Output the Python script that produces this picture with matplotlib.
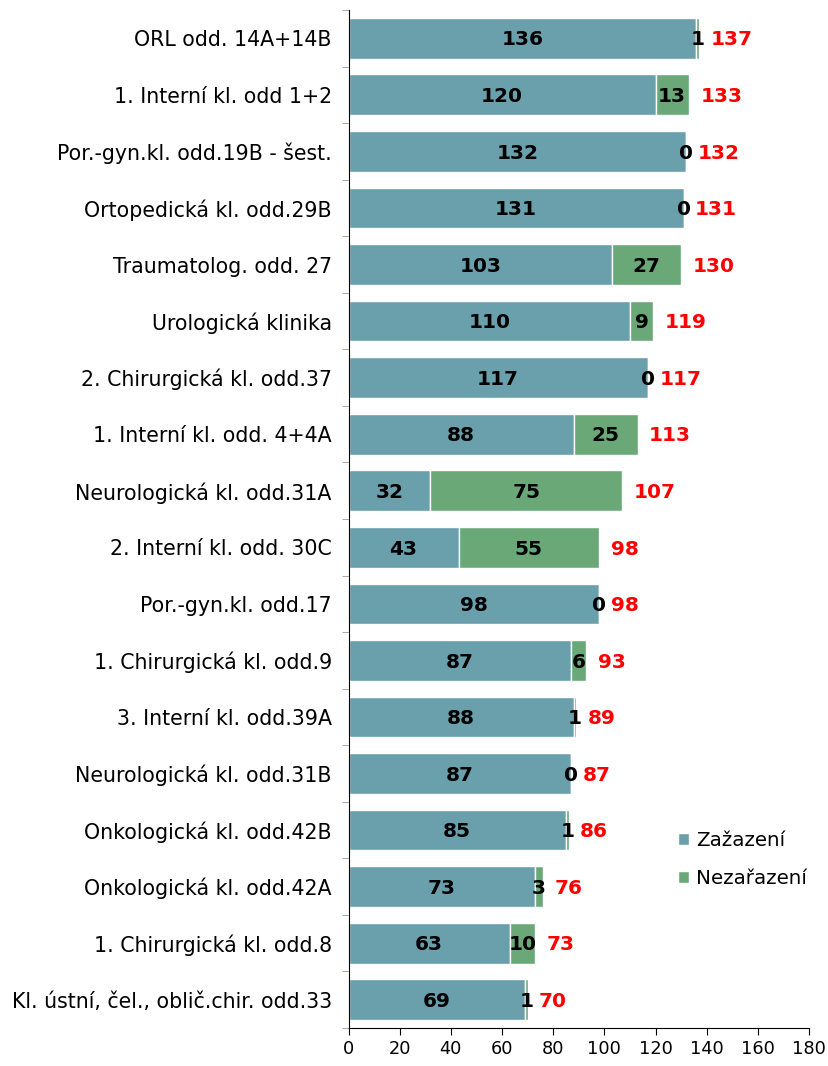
import matplotlib
matplotlib.use("Agg")
import matplotlib.pyplot as plt
import numpy as np

categories = [
    "ORL odd. 14A+14B",
    "1. Interní kl. odd 1+2",
    "Por.-gyn.kl. odd.19B - šest.",
    "Ortopedická kl. odd.29B",
    "Traumatolog. odd. 27",
    "Urologická klinika",
    "2. Chirurgická kl. odd.37",
    "1. Interní kl. odd. 4+4A",
    "Neurologická kl. odd.31A",
    "2. Interní kl. odd. 30C",
    "Por.-gyn.kl. odd.17",
    "1. Chirurgická kl. odd.9",
    "3. Interní kl. odd.39A",
    "Neurologická kl. odd.31B",
    "Onkologická kl. odd.42B",
    "Onkologická kl. odd.42A",
    "1. Chirurgická kl. odd.8",
    "Kl. ústní, čel., oblič.chir. odd.33",
]
zarazeni = [136, 120, 132, 131, 103, 110, 117, 88, 32, 43, 98, 87, 88, 87, 85, 73, 63, 69]
nezarazeni = [1, 13, 0, 0, 27, 9, 0, 25, 75, 55, 0, 6, 1, 0, 1, 3, 10, 1]
series_names = ["Zažazení", "Nezařazení"]
xticks = [0, 20, 40, 60, 80, 100, 120, 140, 160, 180]

c1 = "#6a9fac"
c2 = "#6aa878"

fig = plt.figure(figsize=(8.29, 10.66), dpi=100)
ax = fig.add_axes([0.4204, 0.0356, 0.5555, 0.955])

n = len(categories)
y = np.arange(n)
h = 0.72
ax.barh(y, zarazeni, height=h, color=c1, edgecolor="white", linewidth=1, label=series_names[0])
ax.barh(y, nezarazeni, left=zarazeni, height=h, color=c2, edgecolor="white", linewidth=1, label=series_names[1])

for i in range(n):
    a, b = zarazeni[i], nezarazeni[i]
    ax.text(a / 2, i + 0.03, str(a), ha="center", va="center", fontsize=14.5, fontweight="bold", color="black")
    ax.text(a + b / 2, i + 0.03, str(b), ha="center", va="center", fontsize=14.5, fontweight="bold", color="black")
    ax.text(a + b + 4.5, i + 0.03, str(a + b), ha="left", va="center", fontsize=14.5, fontweight="bold", color="red")

ax.set_ylim(n - 0.5, -0.5)
ax.set_xlim(0, 180)
ax.set_xticks(xticks)
ax.tick_params(axis="x", labelsize=12.8, length=5, direction="out")
ax.set_yticks(y)
ax.set_yticklabels(categories, fontsize=14.8)
ax.tick_params(axis="y", length=0, pad=12)
ax.set_yticks(np.arange(-0.5, n, 1), minor=True)
ax.tick_params(axis="y", which="minor", length=5, color="#999999")
ax.spines["top"].set_visible(False)
ax.spines["right"].set_visible(False)

ax.legend(loc="upper left", bbox_to_anchor=(0.716, 0.194), frameon=False, fontsize=14.3,
          borderpad=0, borderaxespad=0,
          handlelength=0.55, handleheight=0.55, handletextpad=0.35, labelspacing=1.0)

fig.savefig("out.png", dpi=100)
